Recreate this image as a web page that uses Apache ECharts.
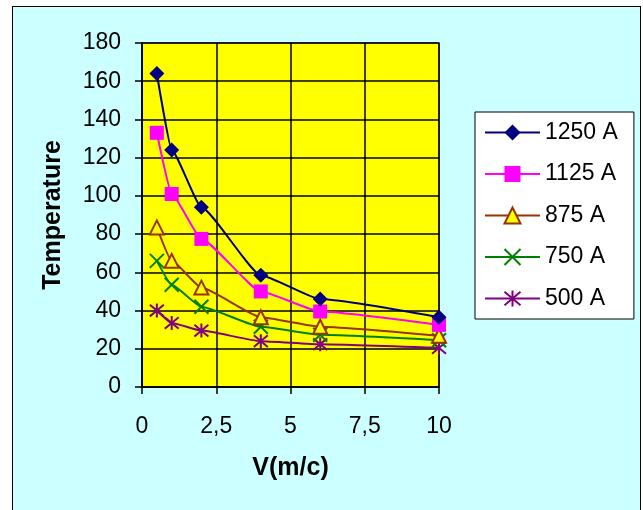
<!DOCTYPE html>
<html>
<head>
<meta charset="utf-8">
<script src="https://cdn.jsdelivr.net/npm/echarts@6/dist/echarts.min.js"></script>
<style>
html,body{margin:0;padding:0;background:#fff;}
#frame{position:absolute;left:12px;top:6px;width:629px;height:520px;background:#CCFFFF;border:1.5px solid #000;box-sizing:border-box;}
#chart{position:absolute;left:0;top:0;width:643px;height:510px;}
</style>
</head>
<body>
<div id="frame"></div>
<div id="chart"></div>
<script>
var speeds = [0.5, 1, 2, 4, 6, 10];
var seriesNames = ['1250 A', '1125 A', '875 A', '750 A', '500 A'];
var temp1250 = [164, 124, 94, 58.5, 46, 36.5];
var temp1125 = [133, 101, 77.5, 50, 39.5, 32.5];
var temp875 = [83.5, 66, 52, 36.5, 31.5, 26.8];
var temp750 = [66, 53.5, 42, 31.5, 27.3, 24.5];
var temp500 = [40, 33.5, 29.5, 24, 22.4, 20.5];
var xTicks = ['0', '2,5', '5', '7,5', '10'];
var yAxisTitle = 'Temperature';
var xAxisTitle = 'V(m/c)';

function pairs(vals){ return speeds.map(function(x,i){ return [x, vals[i]]; }); }

var FONT = 'Liberation Sans, Arial, sans-serif';
var colors = ['#000080', '#FF00FF', '#993300', '#008000', '#800080'];
var symbols = [
  'diamond',
  'rect',
  'triangle',
  'path://M0,0L10,10M10,0L0,10',
  'path://M0,0L10,10M10,0L0,10M5,-1L5,11'
];
var sizes = [15, 14, 14, 14, 14];
var allVals = [temp1250, temp1125, temp875, temp750, temp500];

var series = seriesNames.map(function(name, i){
  var item;
  if (i === 2) item = {color: '#FFFF00', borderColor: colors[i], borderWidth: 2};
  else if (i >= 3) item = {color: colors[i], borderColor: colors[i], borderWidth: 2};
  else item = {color: colors[i], borderWidth: 0};
  return {
    name: name,
    type: 'line',
    data: pairs(allVals[i]),
    smooth: 0.15,
    smoothMonotone: 'x',
    symbol: symbols[i],
    symbolSize: sizes[i],
    showSymbol: true,
    lineStyle: {color: colors[i], width: 2},
    itemStyle: item,
    z: 10 - i
  };
});

var chart = echarts.init(document.getElementById('chart'), null, {renderer: 'canvas'});
chart.setOption({
  backgroundColor: 'transparent',
  animation: false,
  textStyle: {fontFamily: FONT},
  grid: {
    left: 142, top: 43, right: 204, bottom: 123,
    show: true, backgroundColor: '#FFFF00', borderColor: '#808080', borderWidth: 2
  },
  legend: {
    orient: 'vertical',
    left: 475, top: 112,
    padding: [9, 16, 9, 9],
    itemWidth: 55, itemHeight: 20, itemGap: 18.5,
    backgroundColor: '#FFFFFF', borderColor: '#000', borderWidth: 1,
    textStyle: {fontSize: 23, color: '#000', fontFamily: FONT, lineHeight: 23},
    data: seriesNames
  },
  xAxis: {
    type: 'value', min: 0, max: 10, interval: 2.5,
    name: xAxisTitle, nameLocation: 'middle', nameGap: 69,
    nameTextStyle: {fontSize: 25, fontWeight: 'bold', color: '#000', fontFamily: FONT},
    axisLine: {show: true, onZero: false, lineStyle: {color: '#000', width: 1.5}},
    axisTick: {show: true, length: 7, lineStyle: {color: '#000', width: 1.5}},
    axisLabel: {fontSize: 23, color: '#000', margin: 28, fontFamily: FONT,
      formatter: function(v){ return xTicks[Math.round(v/2.5)]; }},
    splitLine: {show: true, lineStyle: {color: '#000', width: 1.5}}
  },
  yAxis: {
    type: 'value', min: 0, max: 180, interval: 20,
    name: yAxisTitle, nameLocation: 'middle', nameGap: 76, nameRotate: 90,
    nameTextStyle: {fontSize: 25, fontWeight: 'bold', color: '#000', fontFamily: FONT},
    axisLine: {show: true, onZero: false, lineStyle: {color: '#000', width: 1.5}},
    axisTick: {show: true, length: 7, lineStyle: {color: '#000', width: 1.5}},
    axisLabel: {fontSize: 23, color: '#000', margin: 21, fontFamily: FONT},
    splitLine: {show: true, lineStyle: {color: '#000', width: 1.5}}
  },
  series: series
});
</script>
</body>
</html>
